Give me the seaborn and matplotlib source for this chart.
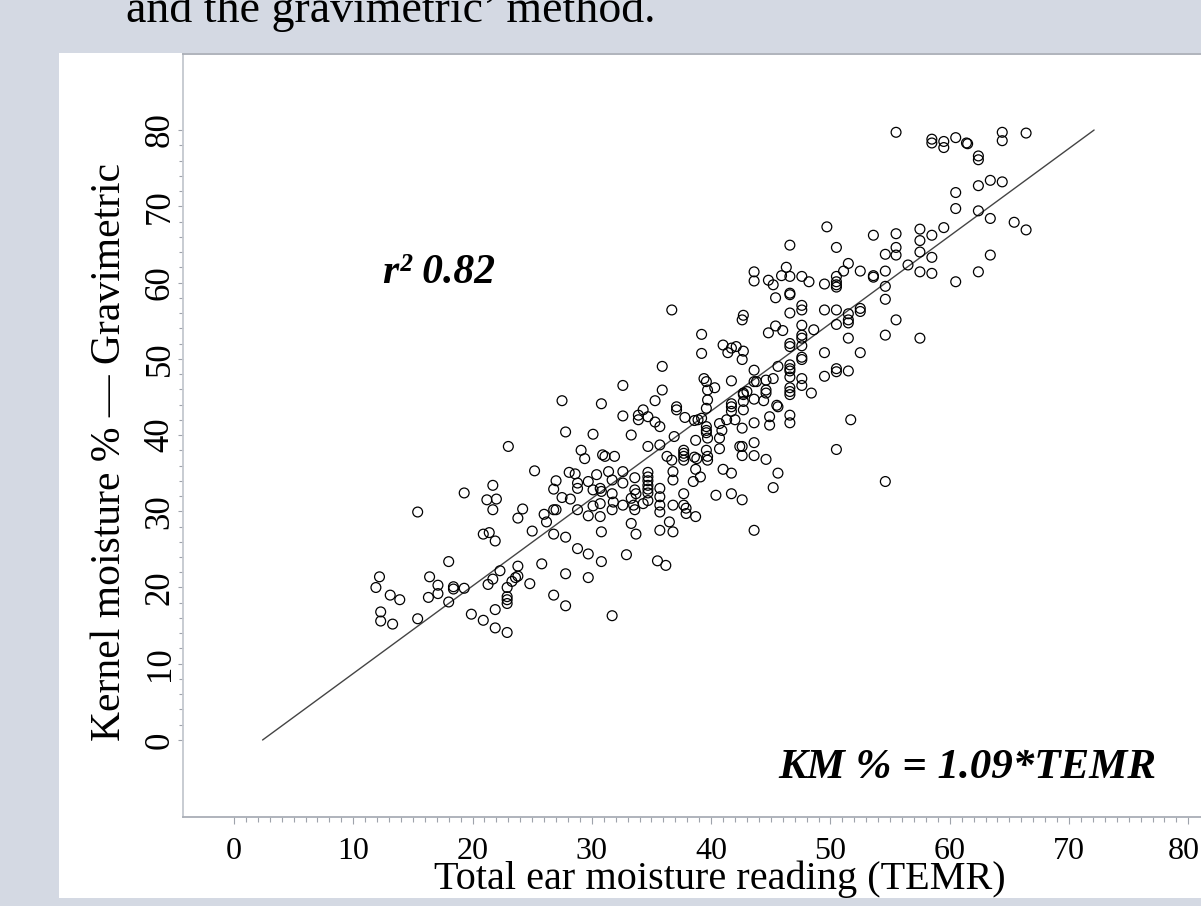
import numpy as np
import matplotlib
matplotlib.use("Agg")
import matplotlib.pyplot as plt
from matplotlib.patches import Rectangle
from matplotlib.ticker import FixedLocator
from matplotlib.transforms import ScaledTranslation
import seaborn as sns

# Total ear moisture reading (TEMR) vs gravimetric kernel moisture (%)
temr = [
    55.5, 58.5, 58.5, 59.5, 59.5, 60.5, 61.4, 61.5, 62.4, 62.4, 64.4, 64.4, 66.4,
    60.5, 62.4, 63.4, 64.4, 60.5, 62.4, 63.4, 65.4, 66.4, 53.6, 55.5, 57.5, 57.5,
    58.5, 59.5, 55.5, 55.5, 54.6, 57.5, 58.5, 63.4, 56.5, 52.5, 53.6, 53.6, 54.6,
    57.5, 58.5, 62.4, 60.5, 54.6, 54.6, 52.5, 52.5, 55.5, 54.6, 57.5, 52.5, 54.6,
    46.6, 50.5, 51.5, 51.1, 43.6, 43.6, 44.8, 45.2, 45.9, 46.6, 46.3, 47.6, 48.2,
    49.5, 50.5, 50.5, 50.5, 50.5, 45.4, 46.6, 46.6, 47.6, 47.6, 46.6, 49.5, 50.5,
    51.5, 51.5, 51.5, 36.7, 42.7, 42.6, 39.2, 45.4, 44.8, 46.0, 47.6, 48.6, 50.5,
    47.6, 47.6, 46.6, 46.6, 47.6, 51.5, 41.0, 41.4, 41.7, 42.1, 42.7, 42.6, 39.2,
    49.5, 47.6, 47.6, 35.9, 45.6, 46.6, 46.6, 46.6, 43.6, 49.5, 50.5, 50.5, 51.5,
    32.6, 35.9, 35.3, 39.4, 39.6, 39.7, 40.3, 41.7, 43.6, 43.8, 44.6, 45.2, 46.6,
    47.6, 47.6, 48.4, 42.7, 42.7, 43.0, 43.6, 44.6, 44.6, 44.4, 46.6, 46.6, 46.6,
    30.8, 39.7, 42.7, 41.7, 41.7, 41.7, 42.7, 45.5, 45.6, 39.6, 37.1, 37.1, 37.8,
    34.3, 33.9, 33.9, 34.7, 35.3, 35.7, 32.6, 38.6, 38.9, 39.2, 39.6, 39.6, 39.6,
    40.7, 40.9, 41.3, 42.0, 42.6, 43.6, 44.9, 44.9, 46.6, 46.6, 51.7, 33.3, 36.9,
    38.7, 39.7, 40.7, 34.7, 35.7, 30.9, 31.1, 31.9, 36.3, 36.7, 37.7, 37.7, 37.7,
    37.7, 38.6, 38.8, 39.6, 39.7, 39.7, 40.7, 42.4, 42.6, 43.6, 42.6, 43.6, 44.6,
    50.5, 31.4, 31.7, 32.6, 32.6, 33.6, 34.7, 34.7, 34.7, 34.7, 34.7, 34.7, 36.8,
    36.8, 38.7, 39.1, 38.5, 41.0, 41.7, 45.6, 45.2, 30.7, 30.8, 31.7, 33.6, 33.7,
    35.7, 35.7, 37.7, 40.4, 41.7, 42.6, 30.7, 31.8, 32.6, 33.3, 33.5, 33.6, 34.3,
    34.7, 35.7, 35.7, 36.8, 37.7, 37.9, 37.9, 38.7, 30.7, 31.7, 33.3, 33.7, 35.7,
    36.8, 36.5, 30.8, 43.6, 32.9, 35.5, 36.2, 30.8, 49.7,
    27.5, 27.8, 30.1, 23.0, 29.1, 29.4, 25.2, 28.1, 28.6, 30.4, 27.0, 28.8, 29.7,
    26.8, 28.8, 30.1, 19.3, 21.7, 21.2, 22.0, 21.7, 27.5, 28.2, 30.1, 15.4, 24.2,
    23.8, 26.0, 26.2, 26.8, 27.0, 28.8, 29.7, 20.9, 21.4, 21.9, 25.0, 26.8, 27.8,
    28.8, 29.7, 18.0, 12.2, 11.9, 13.1, 13.9, 16.4, 17.1, 17.1, 16.3, 18.4, 18.4,
    19.3, 18.0, 21.3, 21.7, 22.3, 23.8, 23.8, 23.6, 23.3, 22.9, 22.9, 22.9, 22.9,
    24.8, 25.8, 27.8, 29.7, 26.8, 27.8, 31.7, 12.3, 12.3, 13.3, 15.4, 19.9, 20.9,
    21.9, 21.9, 22.9,
]
km = [
    79.7, 78.8, 78.3, 78.5, 77.7, 79.0, 78.3, 78.2, 76.6, 76.1, 79.7, 78.6, 79.6,
    71.8, 72.7, 73.4, 73.2, 69.7, 69.4, 68.4, 67.9, 66.9, 66.2, 66.4, 67.0, 65.5,
    66.2, 67.2, 64.6, 63.6, 63.7, 64.0, 63.3, 63.6, 62.3, 61.5, 60.9, 60.7, 61.5,
    61.4, 61.2, 61.4, 60.1, 59.5, 57.8, 56.6, 56.2, 55.1, 53.1, 52.7, 50.8, 33.9,
    64.9, 64.6, 62.5, 61.5, 61.4, 60.2, 60.3, 59.7, 60.9, 60.8, 62.0, 60.8, 60.1,
    59.8, 60.8, 60.1, 59.7, 59.4, 58.0, 58.6, 58.4, 57.0, 56.4, 56.0, 56.4, 56.4,
    55.9, 55.1, 54.7, 56.4, 55.7, 55.1, 53.2, 54.3, 53.4, 53.7, 54.4, 53.8, 54.5,
    53.1, 52.7, 52.0, 51.6, 51.7, 52.7, 51.8, 50.8, 51.4, 51.6, 51.0, 49.9, 50.7,
    50.8, 50.2, 49.9, 49.0, 49.0, 49.2, 48.7, 48.4, 48.5, 47.7, 48.7, 48.3, 48.4,
    46.5, 45.9, 44.5, 47.4, 47.0, 45.9, 46.2, 47.1, 47.0, 47.0, 47.2, 47.4, 47.6,
    47.4, 46.5, 45.5, 45.5, 45.3, 45.7, 44.7, 45.9, 45.5, 44.5, 46.2, 45.7, 45.3,
    44.1, 44.6, 44.4, 44.1, 43.7, 43.1, 43.3, 43.9, 43.7, 43.5, 43.7, 43.3, 42.3,
    43.3, 42.6, 42.0, 42.4, 41.7, 41.1, 42.5, 41.9, 42.0, 42.2, 41.1, 40.6, 40.3,
    41.5, 40.6, 42.0, 42.0, 40.9, 41.6, 42.4, 41.3, 42.6, 41.6, 42.0, 40.0, 39.8,
    39.3, 39.6, 39.6, 38.5, 38.7, 37.4, 37.2, 37.2, 37.2, 36.7, 38.0, 37.6, 37.2,
    36.7, 37.1, 36.9, 38.0, 37.2, 36.7, 38.2, 38.5, 38.5, 39.0, 37.3, 37.3, 36.8,
    38.1, 35.2, 34.1, 35.2, 33.7, 34.4, 35.1, 34.5, 34.0, 33.4, 32.9, 32.4, 35.2,
    34.1, 35.5, 34.5, 33.9, 35.5, 35.0, 35.0, 33.1, 33.0, 32.6, 32.3, 32.8, 32.3,
    33.0, 31.9, 32.3, 32.1, 32.3, 31.5, 31.0, 31.2, 30.8, 31.7, 30.8, 30.2, 31.0,
    31.4, 30.8, 29.9, 30.8, 30.8, 30.4, 29.7, 29.3, 29.3, 30.2, 28.4, 27.0, 27.5,
    27.3, 28.6, 27.3, 27.5, 24.3, 23.5, 22.9, 23.4, 67.3,
    44.5, 40.4, 40.1, 38.5, 38.0, 36.9, 35.3, 35.1, 34.9, 34.8, 34.0, 33.7, 33.9,
    32.9, 33.0, 32.8, 32.4, 33.4, 31.5, 31.6, 30.2, 31.8, 31.6, 30.7, 29.9, 30.3,
    29.1, 29.6, 28.6, 30.2, 30.2, 30.2, 29.4, 27.0, 27.2, 26.1, 27.4, 27.0, 26.6,
    25.1, 24.4, 23.4, 21.4, 20.0, 19.0, 18.4, 21.4, 20.3, 19.2, 18.7, 20.1, 19.8,
    19.9, 18.1, 20.4, 21.1, 22.2, 22.8, 21.5, 21.3, 20.8, 20.0, 18.8, 18.4, 17.9,
    20.5, 23.1, 21.8, 21.3, 19.0, 17.6, 16.3, 16.8, 15.6, 15.2, 15.9, 16.5, 15.7,
    17.1, 14.7, 14.1,
]

# End points of the fitted line
fit_temr = [2.4, 72.1]
fit_km = [0.0, 80.0]

x_major = [0, 10, 20, 30, 40, 50, 60, 70, 80]
y_major = [0, 10, 20, 30, 40, 50, 60, 70, 80]

title_text = "and the gravimetric\u2019 method."
x_label = "Total ear moisture reading (TEMR)"
y_label = "Kernel moisture % \u2014 Gravimetric"
r2_text = "r\u00b2 0.82"
eq_text = "KM % = 1.09*TEMR"

sns.set_theme(style="white")
plt.rcParams["font.family"] = ["Liberation Serif", "DejaVu Serif"]

W, H = 1201, 906
fig = plt.figure(figsize=(W / 100, H / 100), dpi=100)
fig.patch.set_facecolor("#d4d9e3")

# white slide panel behind the chart
fig.patches.append(Rectangle((59 / W, 8 / H), 1 - 59 / W, 845 / H,
                             transform=fig.transFigure, facecolor="white",
                             edgecolor="none", zorder=-5))

ax = fig.add_axes([183 / W, 89 / H, (1248 - 183) / W, 763 / H])
ax.set_zorder(1)
ax.set_facecolor("white")

sns.lineplot(x=fit_temr, y=fit_km, ax=ax, color="#444444", linewidth=1.0,
             zorder=2)
sns.scatterplot(x=temr, y=km, ax=ax, marker="o", s=50, facecolor="none",
                edgecolor="black", linewidth=0.9, legend=False, zorder=3)

ax.set_xlim(-4.27, 85.0)
ax.set_ylim(-10.1, 89.97)
ax.set_xlabel("")
ax.set_ylabel("")

spine_col = "#a9aeb6"
for side in ["top", "left", "bottom"]:
    ax.spines[side].set_visible(True)
    ax.spines[side].set_color(spine_col)
    ax.spines[side].set_linewidth(1.3)
ax.spines["left"].set_color("#c4c8cf")
ax.spines["right"].set_visible(False)

ax.xaxis.set_major_locator(FixedLocator(x_major))
ax.xaxis.set_minor_locator(FixedLocator(np.arange(0, 81, 1)))
ax.yaxis.set_major_locator(FixedLocator(y_major))
ax.yaxis.set_minor_locator(FixedLocator(np.arange(0, 81, 2)))
ax.set_xticklabels([str(v) for v in x_major])
ax.set_yticklabels([str(v) for v in y_major])

ax.tick_params(axis="both", which="both", bottom=True, left=True, top=False,
               right=False, direction="out", color="#9ea3ab", width=0.8,
               labelcolor="black")
ax.tick_params(axis="x", which="major", length=4.8, pad=9.5, labelsize=23)
ax.tick_params(axis="x", which="minor", length=3.6)
ax.tick_params(axis="y", which="major", length=3.6, pad=1, labelsize=25,
               labelrotation=90)
ax.tick_params(axis="y", which="minor", length=3.2)
for lbl in ax.get_yticklabels():
    lbl.set_verticalalignment("center")
    lbl.set_horizontalalignment("right")

# keep the last x tick label inside the slide edge
last = ax.get_xticklabels()[-1]
last.set_transform(last.get_transform()
                   + ScaledTranslation(-5 / 100, 0, fig.dpi_scale_trans))

ax.grid(False)

fig.text(720 / W, 1 - 889 / H, x_label, ha="center", va="baseline",
         fontsize=29, color="black")
fig.text(110 / W, 1 - 452 / H, y_label, ha="center", va="center",
         rotation=90, fontsize=30, color="black")

fig.text(383 / W, 1 - 283 / H, r2_text, ha="left", va="baseline",
         fontsize=30, fontweight="bold", fontstyle="italic", color="black")
fig.text(778 / W, 1 - 778 / H, eq_text, ha="left", va="baseline",
         fontsize=31, fontweight="bold", fontstyle="italic", color="black")

fig.text(126 / W, 1 - 22 / H, title_text, ha="left", va="baseline",
         fontsize=33, color="black")

fig.savefig("out.png", dpi=100, facecolor=fig.get_facecolor())
